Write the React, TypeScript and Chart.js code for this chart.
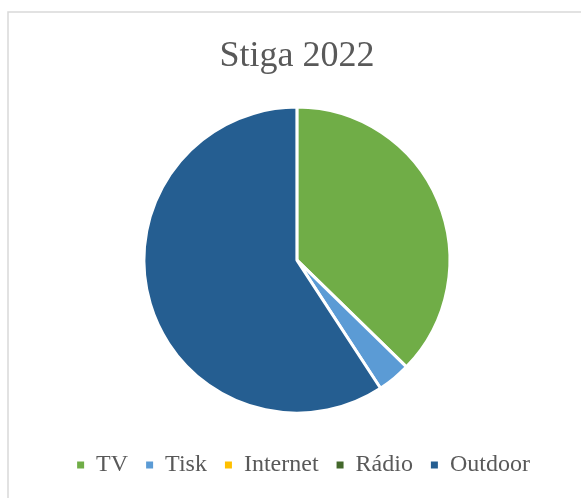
import React, { useEffect, useRef } from "react";
import { Chart, registerables } from "chart.js";

Chart.register(...registerables);

const TITLE = "Stiga 2022";
const categories = ["TV", "Tisk", "Internet", "Rádio", "Outdoor"];
const shares = [37.3, 3.5, 0, 0, 59.2];
const colors = ["#70AD47", "#5B9BD5", "#FFC000", "#43682B", "#255E91"];

const W = 581;
const H = 498;
const SERIF = "'Liberation Serif', 'Times New Roman', serif";

const framePlugin = {
  id: "frame",
  beforeDraw(chart: any) {
    const ctx = chart.ctx;
    ctx.save();
    ctx.fillStyle = "#ffffff";
    ctx.fillRect(0, 0, chart.width, chart.height);
    ctx.strokeStyle = "#d9d9d9";
    ctx.lineWidth = 1.5;
    ctx.strokeRect(8, 12, 800, 800);
    ctx.restore();
  },
};

export default function App() {
  const ref = useRef<HTMLCanvasElement | null>(null);
  useEffect(() => {
    if (!ref.current) return;
    const chart = new Chart(ref.current, {
      type: "pie",
      data: {
        labels: categories,
        datasets: [
          {
            data: shares,
            backgroundColor: colors,
            borderColor: "#ffffff",
            borderWidth: 3,
          },
        ],
      },
      options: {
        responsive: false,
        animation: false,
        radius: 153,
        layout: { padding: { left: 26, right: 0, top: 0, bottom: 11 } },
        plugins: {
          title: {
            display: true,
            fullSize: false,
            text: TITLE,
            color: "#595959",
            font: { family: SERIF, size: 36, weight: "normal" },
            padding: { top: 35, bottom: 7 },
          },
          subtitle: {
            display: true,
            position: "right",
            fullSize: false,
            text: " ",
            color: "rgba(0,0,0,0)",
            font: { size: 1 },
            padding: 6,
          },
          legend: {
            position: "bottom",
            labels: {
              color: "#595959",
              font: { family: SERIF, size: 24 },
              boxWidth: 7,
              boxHeight: 7,
              padding: 18,
              generateLabels(c: any) {
                const base = (Chart as any).overrides.pie.plugins.legend.labels.generateLabels(c);
                return base.map((l: any) => ({ ...l, lineWidth: 0, strokeStyle: "rgba(0,0,0,0)" }));
              },
            },
          },
          tooltip: { enabled: false },
        },
      } as any,
      plugins: [framePlugin],
    });
    return () => chart.destroy();
  }, []);
  return (
    <div style={{ position: "fixed", left: 0, top: 0, width: W, height: H }}>
      <canvas ref={ref} width={W} height={H} style={{ display: "block" }} />
    </div>
  );
}
